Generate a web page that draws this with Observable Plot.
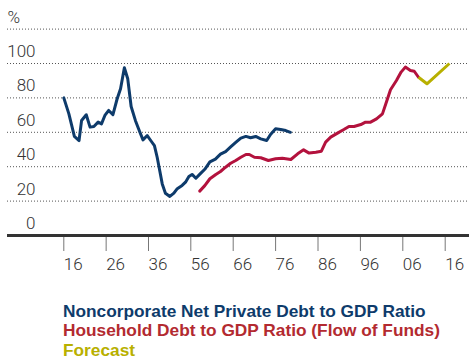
<!DOCTYPE html>
<html>
<head>
<meta charset="utf-8">
<script src="https://cdn.jsdelivr.net/npm/d3@7"></script>
<script src="https://cdn.jsdelivr.net/npm/@observablehq/plot@0.6"></script>
<style>
  html, body { margin: 0; padding: 0; background: #fff; }
  #chart svg { display: block; }
  .legend { margin-top: 17px; padding-left: 63px; font-family: "Liberation Sans", Arial, sans-serif; font-weight: bold; font-size: 17.3px; line-height: 19.3px; }
</style>
</head>
<body>
<div id="chart"></div>
<div class="legend" id="legend"></div>
<script>
// Noncorporate Net Private Debt to GDP Ratio (%)
const privateYears = [1916, 1917.2, 1918.5, 1919.6, 1920.2, 1921.3, 1922.2, 1923.1, 1924.1, 1924.9, 1925.7, 1926.6, 1927.6, 1928.6, 1929.4, 1930.3, 1931.1, 1931.9, 1932.9, 1933.9, 1934.7, 1935.7, 1937.3, 1938.8, 1940.1, 1941.3, 1942.5, 1944, 1946.1, 1948, 1949.6, 1951.9, 1953.5, 1955.1, 1956.3, 1957.2, 1958.2, 1959.3, 1960.5, 1961.8, 1963, 1964.2, 1965.4, 1966.6, 1967.8, 1969, 1970.1, 1971.3, 1972.5, 1973.9, 1974.8, 1976, 1977.2, 1978.4, 1979.5];
const privateValues = [80, 70.7, 57.6, 55.2, 66.9, 70.2, 63, 63.4, 65.9, 64.9, 69.8, 72.7, 70.3, 79.5, 85.3, 97.5, 91.1, 75, 66.9, 60.5, 55.6, 58.1, 54.8, 52.3, 45.5, 37.8, 30, 24.6, 22.7, 24.6, 27.2, 29.1, 31, 34.3, 35.5, 33.3, 35.8, 38.5, 42.8, 44.4, 47.3, 48.8, 51.5, 54.1, 56.6, 57.6, 56.8, 57.6, 56.2, 55.2, 58.7, 62, 61.6, 61, 60];

// Household Debt to GDP Ratio (Flow of Funds) (%)
const householdYears = [1958.1, 1959.3, 1960.5, 1961.9, 1963, 1964.2, 1965.4, 1966.6, 1967.8, 1969, 1969.8, 1971, 1972.5, 1974.3, 1976, 1977.6, 1979.6, 1981.2, 1982.6, 1983.9, 1985.5, 1986.8, 1987.8, 1989, 1990.6, 1992.1, 1993.3, 1994.5, 1996.1, 1997.2, 1998.4, 1999.8, 2001.2, 2002, 2003.1, 2004.5, 2005.6, 2006.6, 2007.8, 2008.7, 2009.7];
const householdValues = [25.8, 29, 33, 35.5, 37.2, 39.7, 42, 43.6, 45.5, 47.1, 47.1, 45.5, 45.2, 43.6, 44.6, 44.9, 44.2, 47.5, 49.8, 47.9, 48.4, 49, 54.3, 57.2, 59.5, 61.6, 63.4, 63.4, 64.5, 65.9, 65.9, 67.8, 70.7, 76.6, 84.7, 90.1, 95, 97.9, 95.9, 95.5, 92];

// Forecast (%)
const forecastYears = [2009.7, 2011.7, 2017];
const forecastValues = [92, 88.2, 100];

// Axis ticks
const xTickYears = [1916, 1926, 1936, 1956, 1966, 1976, 1986, 1996, 2006, 2016];
const xTickLabels = ["16", "26", "36", "56", "66", "76", "86", "96", "06", "16"];
const yTickValues = [0, 20, 40, 60, 80, 100];
const yUnitValue = [120];
const yUnitLabel = ["%"];
const gridValues = [20, 40, 60, 80, 100, 120];

const seriesNames = ["Noncorporate Net Private Debt to GDP Ratio", "Household Debt to GDP Ratio (Flow of Funds)", "Forecast"];
const lineColors = ["#0e3b6b", "#b3123d", "#b8b000"];
const legendColors = ["#0e3b6b", "#b32a30", "#b8b000"];

const toRows = (xs, ys) => xs.map((x, i) => ({year: x, value: ys[i]}));
const privateRows = toRows(privateYears, privateValues);
const householdRows = toRows(householdYears, householdValues);
const forecastRows = toRows(forecastYears, forecastValues);

const labelFont = "Roboto, 'Liberation Sans', sans-serif";

const chart = Plot.plot({
  width: 469,
  height: 285,
  marginLeft: 7,
  marginRight: 0,
  marginTop: 0,
  marginBottom: 34,
  style: {fontFamily: labelFont, background: "#fff"},
  x: {type: "linear", domain: [1916, 1936, 1956, 2016], range: [63.3, 148, 190.3, 444.7], axis: null},
  y: {domain: [0, 120], range: [235, 28.6], axis: null},
  marks: [
    Plot.ruleY(gridValues, {y: d => d, stroke: "#555", strokeWidth: 1, strokeDasharray: "1,2"}),
    Plot.ruleX(xTickYears, {x: d => d, stroke: "#777", strokeWidth: 1, insetTop: 236}),
    Plot.ruleY([0], {y: d => d, stroke: "#333", strokeWidth: 3}),
    Plot.text(xTickYears, {x: d => d, text: (d, i) => xTickLabels[i], frameAnchor: "bottom", textAnchor: "start", lineAnchor: "top", dy: 6, fontSize: 17, fontWeight: 300, fill: "#333"}),
    Plot.text(yTickValues, {y: d => d, text: d => String(d), frameAnchor: "left", textAnchor: "end", dx: 28, dy: -12, fontSize: 17, fontWeight: 300, fill: "#333"}),
    Plot.text(yUnitValue, {y: d => d, text: (d, i) => yUnitLabel[i], frameAnchor: "left", textAnchor: "start", dx: 0, dy: -12, fontSize: 17, fontWeight: 300, fill: "#333"}),
    Plot.line(privateRows, {x: "year", y: "value", stroke: lineColors[0], strokeWidth: 3, strokeLinejoin: "round", strokeLinecap: "round"}),
    Plot.line(householdRows, {x: "year", y: "value", stroke: lineColors[1], strokeWidth: 3, strokeLinejoin: "round", strokeLinecap: "round"}),
    Plot.line(forecastRows, {x: "year", y: "value", stroke: lineColors[2], strokeWidth: 3, strokeLinejoin: "round", strokeLinecap: "butt"})
  ]
});
document.getElementById("chart").appendChild(chart);

const legend = document.getElementById("legend");
seriesNames.forEach((name, i) => {
  const div = document.createElement("div");
  div.textContent = name;
  div.style.color = legendColors[i];
  legend.appendChild(div);
});
</script>
</body>
</html>
